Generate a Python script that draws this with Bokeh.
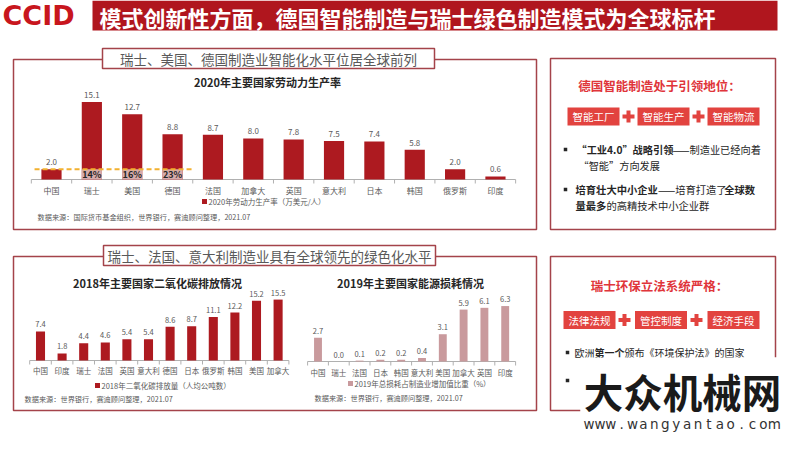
from bokeh.plotting import figure
from bokeh.models import Range1d
from bokeh.core.properties import value
from bokeh.embed import file_html
from bokeh.resources import INLINE

CJK = "Noto Sans CJK SC"

# ---------------- data ----------------
slide_title = "模式创新性方面，德国智能制造与瑞士绿色制造模式为全球标杆"
heading_top = "瑞士、美国、德国制造业智能化水平位居全球前列"
heading_bottom = "瑞士、法国、意大利制造业具有全球领先的绿色化水平"

prod_title = "2020年主要国家劳动力生产率"
prod_countries = ["中国", "瑞士", "美国", "德国", "法国", "加拿大", "英国", "意大利", "日本", "韩国", "俄罗斯", "印度"]
prod_values = [2.0, 15.1, 12.7, 8.8, 8.7, 8.0, 7.8, 7.5, 7.4, 5.8, 2.0, 0.6]
prod_share_countries = ["瑞士", "美国", "德国"]
prod_share_labels = ["14%", "16%", "23%"]
prod_legend = "2020年劳动力生产率（万美元/人）"
prod_source = "数据来源：国际货币基金组织，世界银行，赛迪顾问整理，2021.07"

co2_title = "2018年主要国家二氧化碳排放情况"
co2_countries = ["中国", "印度", "瑞士", "法国", "英国", "意大利", "德国", "日本", "俄罗斯", "韩国", "美国", "加拿大"]
co2_values = [7.4, 1.8, 4.4, 4.6, 5.4, 5.4, 8.6, 8.7, 11.1, 12.2, 15.2, 15.5]
co2_legend = "2018年二氧化碳排放量（人均公吨数）"
co2_source = "数据来源：世界银行，赛迪顾问整理，2021.07"

energy_title = "2019年主要国家能源损耗情况"
energy_countries = ["中国", "瑞士", "法国", "日本", "韩国", "意大利", "美国", "加拿大", "英国", "印度"]
energy_values = [2.7, 0.0, 0.1, 0.2, 0.2, 0.4, 3.1, 5.9, 6.1, 6.3]
energy_legend = "2019年总损耗占制造业增加值比重（%）"
energy_source = "数据来源：世界银行，赛迪顾问整理，2021.07"

de_title = "德国智能制造处于引领地位："
de_tags = ["智能工厂", "智能生产", "智能物流"]
ch_title = "瑞士环保立法系统严格："
ch_tags = ["法律法规", "管控制度", "经济手段"]

# ---------------- styles ----------------
BAR_RED = "#ad1a20"
PINK = "#d6abab"
ENERGY = "#c99a9d"
BORDER = "#a4434a"
TITLE_RED = "#b0161e"
BOX_RED = "#e2433f"
RED_TEXT = "#e0353a"
GREY = "#595959"
DARK = "#262626"

W, H = 784, 433
p = figure(width=W, height=H, x_range=Range1d(8, 8 + W), y_range=Range1d(8 + H, 8),
           output_backend="svg", toolbar_location=None,
           x_axis_location=None, y_axis_location=None, min_border=0)
p.grid.visible = False
p.outline_line_color = None
p.background_fill_color = "white"
p.border_fill_color = "white"


def chart_ranges(px0, step, base, ppu):
    s = (8 - px0) / step
    sy = (base - (8 + H)) / ppu
    return Range1d(s, s + W / step), Range1d(sy, sy + H / ppu)


xr1, yr1 = chart_ranges(59, 40.36, 187, 5.14)
xr2, yr2 = chart_ranges(48, 21.6, 368, 3.93)
xr3, yr3 = chart_ranges(325.5, 20.8, 369, 8.8)
p.extra_x_ranges = {"c1": xr1, "c2": xr2, "c3": xr3}
p.extra_y_ranges = {"c1": yr1, "c2": yr2, "c3": yr3}


def T(x, y, s, size, color=DARK, bold=False, align="left", baseline="middle",
      xr="default", yr="default", font=CJK, **kw):
    if not isinstance(x, list):
        x, y, s = [x], [y], [s]
    p.text(x=x, y=y, text=s, text_font=value(font), text_font_size=value(f"{size}px"),
           text_color=color, text_font_style="bold" if bold else "normal",
           text_align=align, text_baseline=baseline,
           x_range_name=xr, y_range_name=yr, **kw)


def tw(s, fs):
    t = 0.0
    for c in s:
        if c == "—":
            t += 0.72
        elif c in "“”":
            t += 1.0
        elif ord(c) >= 0x2E80 or c in "《》":
            t += 1.0
        elif c in ".,":
            t += 0.27
        else:
            t += 0.57
    return t * fs


def runs(x, y, parts, fs):
    for s, b in parts:
        T(x, y, s, fs, DARK, bold=b)
        x += tw(s, fs)


# ---------------- header ----------------
T(10, 23, "CCID", 27, "#c8161d", bold=True, font="DejaVu Sans")
p.quad(left=100, right=785, top=8, bottom=38, fill_color=TITLE_RED, line_color=None)
T(107, 24.2, slide_title, 22, "white", bold=True)

# ---------------- panels ----------------
p.quad(left=21, right=544, top=67, bottom=237, fill_color=None, line_color=BORDER, line_width=1.5)
p.quad(left=558, right=783, top=66, bottom=237, fill_color=None, line_color=BORDER, line_width=1.5)
p.quad(left=21, right=544, top=264, bottom=418, fill_color=None, line_color=BORDER, line_width=1.5)
p.line(x=[588, 558, 558, 783, 783], y=[418, 418, 264, 264, 365], line_color=BORDER, line_width=1.5)
p.quad(left=110, right=442, top=56, bottom=76, fill_color="white", line_color=BORDER, line_width=1.5)
T(276, 66, heading_top, 13.5, GREY, align="center")
p.quad(left=111, right=443, top=253, bottom=273, fill_color="white", line_color=BORDER, line_width=1.5)
T(277, 263, heading_bottom, 13.5, GREY, align="center")


def bar_chart(name, cats, vals, color, width, base, label_y, fs, title, title_x, title_y,
              legend, leg_x, leg_y, source, src_x, src_y):
    idx = list(range(len(cats)))
    n = len(cats)
    p.line(x=[-0.5, n - 0.5], y=[0, 0], x_range_name=name, y_range_name=name,
           line_color="#b0b0b0", line_width=1)
    p.segment(x0=[i - 0.5 for i in range(n + 1)], x1=[i - 0.5 for i in range(n + 1)],
              y0=[base] * (n + 1), y1=[base + 4] * (n + 1), x_range_name=name,
              line_color="#b0b0b0", line_width=1)
    p.vbar(x=idx, top=vals, bottom=0, width=width, fill_color=color, line_color=None,
           x_range_name=name, y_range_name=name)
    T(idx, vals, [f"{v:.1f}" for v in vals], fs, GREY, align="center", baseline="bottom",
      xr=name, yr=name, y_offset=-4)
    T(idx, [label_y] * n, cats, fs, GREY, align="center", xr=name)
    T(title_x, title_y, title, 11, DARK, bold=True, align="center")
    p.scatter(x=[leg_x], y=[leg_y], marker="square", size=5, fill_color=color, line_color=None)
    T(leg_x + 4, leg_y, legend, 7.5, GREY)
    T(src_x, src_y, source, 7.2, GREY)
    return idx


# chart 1: productivity
idx1 = bar_chart("c1", prod_countries, prod_values, BAR_RED, 0.5, 187, 198, 8,
                 prod_title, 275, 89, prod_legend, 212, 209, prod_source, 45, 224)
china_val = prod_values[prod_countries.index("中国")]
share_idx = [prod_countries.index(c) for c in prod_share_countries]
p.vbar(x=share_idx, top=[china_val] * len(share_idx), bottom=0, width=0.5,
       fill_color=PINK, line_color=None, x_range_name="c1", y_range_name="c1")
p.line(x=[-0.42, max(share_idx) + 0.5], y=[china_val, china_val], x_range_name="c1", y_range_name="c1",
       line_color="#f2b130", line_width=2, line_dash="5 3")
T(share_idx, [china_val / 2] * len(share_idx), prod_share_labels, 9, DARK, bold=True,
  align="center", xr="c1", yr="c1")

# chart 2: CO2
bar_chart("c2", co2_countries, co2_values, BAR_RED, 0.42, 368, 378, 7.5,
          co2_title, 165, 290, co2_legend, 105, 393, co2_source, 32, 406)

# chart 3: energy loss
bar_chart("c3", energy_countries, energy_values, ENERGY, 0.38, 369, 380, 7.5,
          energy_title, 418, 290, energy_legend, 358, 391, energy_source, 322, 405)

# ---------------- right boxes ----------------
def tag_row(tags, centers, y, plus_x):
    for cx, t in zip(centers, tags):
        p.quad(left=cx - 26, right=cx + 26, top=y - 9, bottom=y + 9, fill_color=BOX_RED, line_color=None)
        T(cx, y, t, 10.5, "white", align="center")
    for px in plus_x:
        p.rect(x=px, y=y, width=12, height=4, fill_color=BOX_RED, line_color=None)
        p.rect(x=px, y=y, width=4, height=12, fill_color=BOX_RED, line_color=None)


T(667, 93, de_title, 12.5, RED_TEXT, bold=True, align="center")
tag_row(de_tags, [601, 671, 741], 124, [636, 706])
p.scatter(x=[573, 573], y=[157, 197], marker="square", size=3.5, fill_color=DARK, line_color=None)
runs(584, 157, [("“工业4.0”战略引领", True), ("——制造业已经向着", False)], 10.2)
runs(586, 173, [("“智能”方向发展", False)], 10.2)
runs(583, 197, [("培育壮大中小企业", True), ("——培育打造了", False), ("全球数", True)], 10.3)
runs(583, 213, [("量最多", True), ("的高精技术中小企业群", False)], 10.3)

T(667, 293, ch_title, 12.5, RED_TEXT, bold=True, align="center")
tag_row(ch_tags, [597, 668.5, 741], 327.5, [632, 704])
p.scatter(x=[575, 575], y=[360, 388], marker="square", size=3.5, fill_color=DARK, line_color=None)
runs(582, 360, [("欧洲", False), ("第一个", True), ("颁布《环境保护法》的国家", False)], 10)

# ---------------- watermark ----------------
p.quad(left=588, right=800, top=365, bottom=449, fill_color="white", line_color=None)
T(690, 398, "大众机械网", 39.5, "#1a1a1a", bold=True, align="center")
site = "www.wangyantao.com"
T([591 + 5.5 + 10.9 * i for i in range(len(site))], [431] * len(site), list(site), 13.5, "#333333",
  align="center", font="DejaVu Sans")

open("out.html", "w").write(file_html(p, INLINE))
